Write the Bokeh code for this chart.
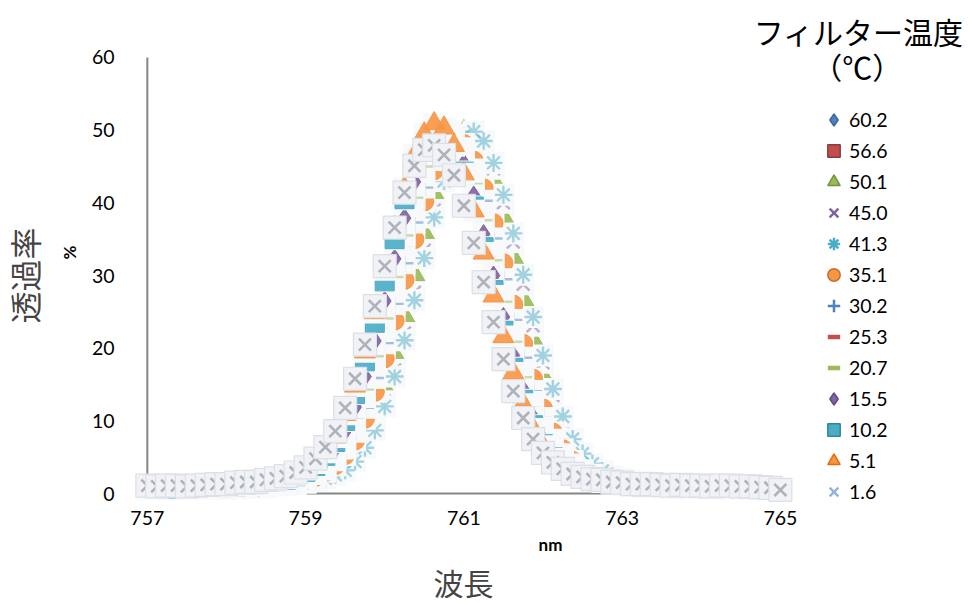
from bokeh.embed import file_html
from bokeh.models import (CDSView, ColumnDataSource, FixedTicker, IndexFilter,
                          Label, Legend, LegendItem, Range1d, Title)
from bokeh.plotting import figure
from bokeh.resources import INLINE

# wavelength grid (nm)
wavelength = [
    757.0, 757.125, 757.25, 757.375, 757.5, 757.625, 757.75, 757.875,
    758.0, 758.125, 758.25, 758.375, 758.5, 758.625, 758.75, 758.875,
    759.0, 759.125, 759.25, 759.375, 759.5, 759.625, 759.75, 759.875,
    760.0, 760.125, 760.25, 760.375, 760.5, 760.625, 760.75, 760.875,
    761.0, 761.125, 761.25, 761.375, 761.5, 761.625, 761.75, 761.875,
    762.0, 762.125, 762.25, 762.375, 762.5, 762.625, 762.75, 762.875,
    763.0, 763.125, 763.25, 763.375, 763.5, 763.625, 763.75, 763.875,
    764.0, 764.125, 764.25, 764.375, 764.5, 764.625, 764.75, 764.875,
    765.0,
]

# transmittance (%) for each filter temperature
t60_2 = [0.8, 0.8, 0.8, 0.8, 0.9, 0.8, 0.8, 0.9, 0.8, 0.9, 0.9,
         1.0, 1.2, 1.3, 1.5, 1.7, 1.9, 2.2, 2.8, 3.5, 4.9, 6.6, 9.3, 12.8, 17.1,
         22.2, 27.7, 33.5, 39.1, 43.9, 47.4, 49.5, 49.7, 48.1, 44.8, 40.1, 34.6,
         29.0, 23.3, 18.0, 13.6, 9.9, 6.9, 5.0, 3.7, 3.0, 2.3, 1.9, 1.7, 1.6,
         1.3, 1.2, 1.0, 1.0,
         0.9, 0.9, 0.8, 0.9, 0.8, 0.8, 0.8, 0.8, 0.7, 0.7, 0.6]
t56_6 = [0.7, 0.7, 0.6, 0.7, 0.7, 0.7, 0.7, 0.8, 0.7, 0.7, 0.8,
         0.9, 1.1, 1.2, 1.2, 1.5, 1.7, 2.0, 2.6, 3.2, 4.4, 6.0, 8.5, 11.9, 16.1,
         21.0, 26.5, 32.3, 37.9, 42.9, 46.8, 49.1, 49.7, 48.4, 45.4, 41.1, 35.7,
         30.0, 24.2, 19.0, 14.3, 10.5, 7.4, 5.3, 3.9, 3.0, 2.3, 1.9, 1.6, 1.5,
         1.2, 1.1, 0.9, 0.9,
         0.8, 0.8, 0.7, 0.8, 0.7, 0.7, 0.7, 0.7, 0.6, 0.6, 0.5]
t50_1 = [0.8, 0.8, 0.9, 0.8, 0.8, 0.8, 0.9, 0.8, 0.8, 0.9, 0.9, 0.9,
         1.0, 1.2, 1.3, 1.6, 1.7, 2.0, 2.4, 3.1, 4.0, 5.3, 7.6, 10.6, 14.5, 19.1,
         24.4, 30.1, 35.8, 41.2, 45.5, 48.5, 49.8, 49.2, 46.9, 43.0, 38.0, 32.4,
         26.7, 21.1, 16.1, 12.0, 8.6, 6.3, 4.5, 3.3, 2.6, 2.1, 1.8, 1.6, 1.3,
         1.3, 1.2, 1.0, 1.0,
         0.9, 0.9, 0.8, 0.9, 0.8, 0.8, 0.8, 0.7, 0.7, 0.6]
t45_0 = [0.7, 0.7, 0.7, 0.6, 0.7, 0.7, 0.8, 0.7, 0.7, 0.8, 0.8, 0.8,
         0.9, 1.1, 1.2, 1.4, 1.5, 1.8, 2.1, 2.7, 3.4, 4.7, 6.7, 9.1, 12.7, 17.0,
         22.1, 27.7, 33.5, 39.0, 43.8, 47.4, 49.4, 49.6, 47.9, 44.7, 40.0, 34.6,
         28.8, 23.1, 18.0, 13.5, 9.8, 6.9, 5.0, 3.6, 2.8, 2.2, 1.8, 1.6, 1.4,
         1.2, 1.1, 0.9, 0.9,
         0.8, 0.8, 0.7, 0.8, 0.7, 0.7, 0.7, 0.6, 0.6, 0.5]
t41_3 = [0.8, 0.8, 0.8, 0.8, 0.9, 0.8, 0.8, 0.8, 0.9, 0.8, 0.9, 0.9,
         1.0, 1.2, 1.3, 1.3, 1.6, 1.8, 2.1, 2.6, 3.2, 4.4, 6.3, 8.7, 12.0, 16.1,
         21.1, 26.6, 32.4, 38.0, 43.0, 46.8, 49.2, 49.8, 48.5, 45.5, 41.1, 35.8,
         30.1, 24.3, 19.0, 14.4, 10.6, 7.5, 5.5, 4.1, 3.1, 2.4, 2.0, 1.7, 1.6,
         1.3, 1.2, 1.0, 1.0,
         0.9, 0.9, 0.8, 0.9, 0.8, 0.8, 0.8, 0.7, 0.7, 0.6]
t35_1 = [0.7, 0.7, 0.7, 0.6, 0.7, 0.7, 0.7, 0.8, 0.7, 0.8, 0.8,
         0.9, 1.1, 1.2, 1.5, 1.6, 1.9, 2.3, 3.0, 3.9, 5.3, 7.3, 10.3, 14.0, 18.6,
         23.8, 29.4, 35.0, 40.2, 44.5, 47.4, 48.7, 48.1, 45.8, 42.0, 37.2, 31.7,
         26.0, 20.6, 15.8, 11.7, 8.4, 6.1, 4.5, 3.2, 2.6, 2.0, 1.7, 1.5, 1.2,
         1.2, 1.1, 0.9, 0.9,
         0.8, 0.7, 0.8, 0.7, 0.7, 0.8, 0.7, 0.7, 0.6, 0.6, 0.5]
t30_2 = [0.8, 0.8, 0.8, 0.9, 0.8, 0.8, 0.9, 0.8, 0.9, 0.9,
         1.0, 1.2, 1.3, 1.3, 1.6, 1.8, 2.1, 2.7, 3.3, 4.6, 6.2, 8.5, 11.8, 15.9,
         20.7, 26.1, 31.7, 37.3, 42.1, 45.9, 48.2, 48.8, 47.5, 44.6, 40.3, 35.1,
         29.5, 23.9, 18.7, 14.1, 10.4, 7.4, 5.4, 4.0, 3.1, 2.4, 2.0, 1.7, 1.6,
         1.3, 1.2, 1.0, 1.0,
         0.9, 0.9, 0.8, 0.9, 0.8, 0.8, 0.9, 0.8, 0.8, 0.8, 0.7, 0.6]
t25_3 = [0.7, 0.7, 0.6, 0.7, 0.7, 0.7, 0.8, 0.7, 0.8, 0.8,
         0.9, 1.1, 1.2, 1.5, 1.6, 1.8, 2.2, 2.9, 3.7, 5.0, 6.9, 9.7, 13.3, 17.8,
         22.9, 28.5, 34.2, 39.6, 44.2, 47.4, 49.1, 48.9, 46.9, 43.3, 38.6, 33.1,
         27.4, 21.9, 16.8, 12.6, 9.1, 6.6, 4.8, 3.5, 2.7, 2.1, 1.8, 1.6, 1.4,
         1.2, 1.1, 0.9, 0.9,
         0.8, 0.8, 0.7, 0.8, 0.7, 0.7, 0.7, 0.7, 0.7, 0.6, 0.6, 0.5]
t20_7 = [0.8, 0.8, 0.9, 0.8, 0.8, 0.8, 0.9, 0.9, 0.9, 0.9,
         1.0, 1.2, 1.3, 1.6, 1.7, 2.0, 2.4, 3.2, 4.0, 5.4, 7.5, 10.5, 14.3, 18.9,
         24.1, 29.8, 35.5, 40.7, 45.0, 48.0, 49.3, 48.7, 46.4, 42.6, 37.6, 32.1,
         26.4, 20.9, 16.0, 11.9, 8.6, 6.3, 4.6, 3.3, 2.7, 2.2, 1.8, 1.6, 1.3,
         1.3, 1.2, 1.0, 1.0,
         0.9, 0.9, 0.8, 0.9, 0.8, 0.8, 0.8, 0.8, 0.7, 0.8, 0.7, 0.6]
t15_5 = [0.7, 0.6, 0.7, 0.7, 0.6, 0.7, 0.8, 0.7, 0.8,
         0.9, 1.1, 1.2, 1.2, 1.5, 1.7, 2.1, 2.6, 3.3, 4.6, 6.2, 8.6, 11.9, 16.1,
         21.0, 26.5, 32.3, 37.9, 42.9, 46.8, 49.1, 49.7, 48.4, 45.4, 41.0, 35.7,
         30.0, 24.3, 19.0, 14.3, 10.5, 7.5, 5.4, 4.0, 3.1, 2.4, 1.9, 1.6, 1.5,
         1.2, 1.1, 0.9, 0.9,
         0.8, 0.8, 0.7, 0.8, 0.7, 0.7, 0.8, 0.7, 0.7, 0.7, 0.6, 0.6, 0.5]
t10_2 = [0.8, 0.8, 0.7, 0.8, 0.8, 0.9, 0.8, 0.9, 0.9,
         1.0, 1.2, 1.3, 1.6, 1.7, 1.9, 2.4, 3.0, 3.8, 5.2, 7.1, 10.0, 13.7, 18.2,
         23.5, 29.2, 35.0, 40.5, 45.2, 48.5, 50.2, 50.0, 47.9, 44.3, 39.5, 33.9,
         28.0, 22.4, 17.3, 12.9, 9.4, 6.8, 5.0, 3.6, 2.9, 2.3, 1.9, 1.7, 1.5,
         1.3, 1.2, 1.0, 1.0,
         0.9, 0.9, 0.8, 0.9, 0.8, 0.8, 0.9, 0.8, 0.8, 0.7, 0.8, 0.7, 0.6]
t5_1 = [0.9, 0.8, 0.9, 0.9, 0.8, 0.9, 0.9, 1.0, 1.0,
        1.1, 1.4, 1.4, 1.7, 1.8, 2.1, 2.6, 3.3, 4.2, 5.7, 7.8, 10.9, 14.8, 19.5,
        24.9, 30.8, 36.6, 42.0, 46.5, 49.5, 50.9, 50.3, 47.9, 44.0, 38.9, 33.1,
        27.2, 21.6, 16.6, 12.3, 8.9, 6.5, 4.8, 3.5, 2.8, 2.3, 1.9, 1.7, 1.4,
        1.4, 1.3, 1.1, 1.1,
        1.0, 0.9, 0.9, 1.0, 0.9, 0.9, 0.8, 0.9, 0.9, 0.8, 0.8, 0.7, 0.6]
t1_6 = [1.1, 1.0, 1.1, 1.1, 1.0, 1.1, 1.2,
        1.3, 1.3, 1.5, 1.6, 1.6, 1.9, 2.1, 2.4, 2.9, 3.6, 4.8, 6.4, 8.6, 11.8,
        15.8, 20.5, 25.8, 31.3, 36.6, 41.4, 45.1, 47.3, 47.9, 46.6, 43.8, 39.6,
        34.5, 29.1, 23.6, 18.5, 14.1, 10.4, 7.5, 5.6, 4.3, 3.4, 2.7, 2.3, 2.0,
        1.9, 1.6, 1.5, 1.3, 1.3, 1.3,
        1.2, 1.1, 1.2, 1.1, 1.1, 1.0, 1.1, 1.1, 1.0, 1.0, 0.9, 0.8, 0.5]

temperatures = ["60.2", "56.6", "50.1", "45.0", "41.3", "35.1", "30.2",
                "25.3", "20.7", "15.5", "10.2", "5.1", "1.6"]
series_values = [t60_2, t56_6, t50_1, t45_0, t41_3, t35_1, t30_2,
                 t25_3, t20_7, t15_5, t10_2, t5_1, t1_6]
markers = ["diamond", "square", "triangle", "x", "asterisk", "circle", "cross",
           "dash", "dash", "diamond", "square", "triangle", "x"]
colors = ["#4F81BD", "#C0504D", "#9BBB59", "#8064A2", "#4BACC6", "#F79646",
          "#4F81BD", "#C0504D", "#9BBB59", "#8064A2", "#4BACC6", "#F79646",
          "#95B3D7"]
edge_colors = ["#3A679C", "#8E3B39", "#76923C", "#8064A2", "#4BACC6", "#C0712F",
               "#4F81BD", "#C0504D", "#9BBB59", "#5F497A", "#31859C", "#E46C0A",
               "#95B3D7"]

x_ticks = [757, 759, 761, 763, 765]
y_ticks = [0, 10, 20, 30, 40, 50, 60]

LINE_MARKERS = {"x", "asterisk", "cross", "dash"}
NUM_FONT = "Lato"
JP_FONT = "Noto Sans CJK JP"
NAN = float("nan")

# The frame reaches the top and right edges so the legend block sits inside it.
p = figure(
    frame_width=838, frame_height=504,
    min_border_left=131, min_border_right=0,
    min_border_top=0, min_border_bottom=99,
    x_range=Range1d(756.8, 767.39), y_range=Range1d(-1.5, 67.84),
    output_backend="svg", toolbar_location=None,
)
p.outline_line_color = None
p.xgrid.grid_line_color = None
p.ygrid.grid_line_color = None
p.background_fill_color = "white"
p.border_fill_color = "white"

# axis lines sit under the markers
axis_gray = "#868686"
p.segment(x0=[x_ticks[0], x_ticks[0]], y0=[y_ticks[0], y_ticks[0]],
          x1=[x_ticks[-1], x_ticks[0]], y1=[y_ticks[0], y_ticks[-1]],
          line_color=axis_gray, line_width=2, level="underlay")

legend_items = []
for temp, ys, mk, col, edge in zip(temperatures, series_values, markers,
                                   colors, edge_colors):
    src = ColumnDataSource(dict(x=wavelength, y=ys))
    if temp == "1.6":
        # each point: pale tile, then its grey cross, so the next tile
        # overlaps the previous cross
        for i in range(len(wavelength)):
            view = CDSView(filter=IndexFilter([i]))
            p.scatter("x", "y", source=src, view=view, marker="square",
                      size=23, fill_color="#f0f2f5", line_color="#dcdfe5",
                      line_width=1.2)
            p.scatter("x", "y", source=src, view=view, marker="x", size=17,
                      line_color="#aeb2ba", line_width=2.6)
    else:
        p.scatter("x", "y", source=src, marker="square", size=22,
                  fill_color="#f8f9fb", line_color=None)
        if mk in LINE_MARKERS:
            p.scatter("x", "y", source=src, marker=mk, size=18,
                      line_color=col, line_width=2.4, line_alpha=0.5)
        else:
            size = 21 if mk == "triangle" else 19
            p.scatter("x", "y", source=src, marker=mk, size=size,
                      fill_color=col, line_color=col, line_width=1,
                      fill_alpha=0.92)
    # legend swatch (a single NaN point, so nothing shows in the plot)
    if mk in LINE_MARKERS:
        lw = 4.5 if mk == "dash" else 2.5
        r = p.scatter(x=[NAN], y=[NAN], marker=mk, line_color=col,
                      line_width=lw)
    else:
        r = p.scatter(x=[NAN], y=[NAN], marker=mk, fill_color=col,
                      line_color=edge, line_width=1.5)
    legend_items.append(LegendItem(label=temp, renderers=[r]))

legend = Legend(
    items=legend_items, location=(687, -3), orientation="vertical",
    glyph_width=31, glyph_height=31, spacing=0, label_standoff=0,
    label_height=20, padding=0, margin=0,
    border_line_color=None, background_fill_alpha=0,
    label_text_font=NUM_FONT, label_text_font_size="19.5px",
    label_text_color="black",
)
p.add_layout(legend, "center")

# legend heading
p.add_layout(Label(x=765.99, y=63.6, text="フィルター温度", text_font=JP_FONT,
                   text_font_size="30px", text_align="center",
                   text_baseline="middle", text_color="black"))
p.add_layout(Label(x=765.97, y=58.8, text="（℃）", text_font=JP_FONT,
                   text_font_size="30px", text_align="center",
                   text_baseline="middle", text_color="black"))

# axes
for ax in (p.xaxis[0], p.yaxis[0]):
    ax.axis_line_color = None
    ax.major_tick_line_color = None
    ax.minor_tick_line_color = None
    ax.major_label_text_font = NUM_FONT
    ax.major_label_text_font_size = "19.5px"
    ax.major_label_text_color = "black"
    ax.axis_label_text_font = NUM_FONT
    ax.axis_label_text_font_style = "bold"
    ax.axis_label_text_font_size = "17px"
    ax.axis_label_text_color = "black"

p.xaxis.ticker = FixedTicker(ticks=x_ticks)
p.yaxis.ticker = FixedTicker(ticks=y_ticks)
p.xaxis.bounds = (x_ticks[0], x_ticks[-1])
p.yaxis.bounds = (y_ticks[0], y_ticks[-1])
p.xaxis.major_label_standoff = 0
p.yaxis.major_label_standoff = 11
p.xaxis.axis_label = "nm"
p.yaxis.axis_label = "%"
p.xaxis.axis_label_standoff = 6
p.yaxis.axis_label_standoff = 9

# axis titles
p.add_layout(Title(text="波長", text_font=JP_FONT, text_font_size="30px",
                   text_font_style="normal", align="left", offset=302,
                   vertical_align="top", standoff=5), "below")
# a small gap between the "%" label and the vertical title
p.add_layout(Title(text=" ", text_font_size="4px", standoff=0), "left")
p.add_layout(Title(text="透過率", text_font=JP_FONT, text_font_size="32px",
                   text_font_style="normal", align="left", offset=181,
                   vertical_align="top", standoff=0), "left")

open("out.html", "w").write(file_html(p, INLINE))
